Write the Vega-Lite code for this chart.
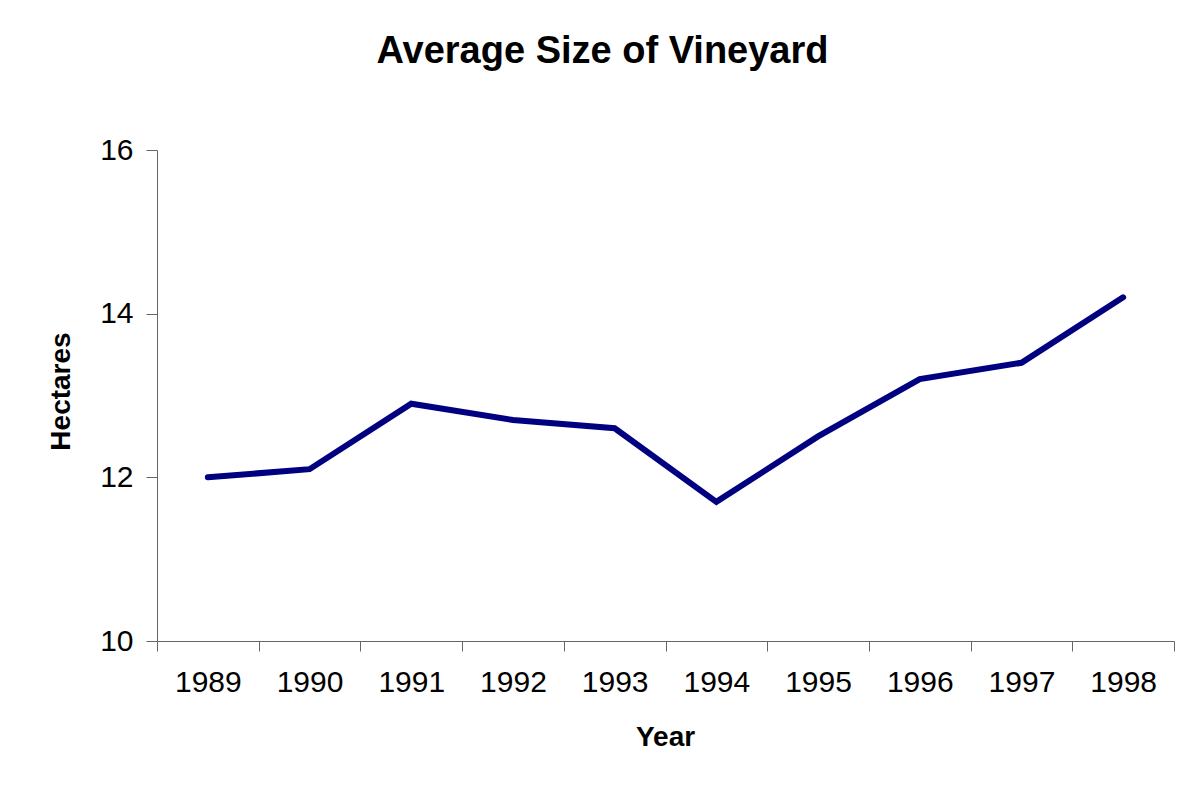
{
  "$schema": "https://vega.github.io/schema/vega-lite/v6.json",
  "width": 1017,
  "height": 491,
  "autosize": {"type": "none"},
  "padding": {"left": 157, "top": 150, "right": 4, "bottom": 145},
  "background": "white",
  "title": {
    "text": "Average Size of Vineyard",
    "font": "Liberation Sans",
    "fontSize": 38,
    "fontWeight": "bold",
    "color": "black",
    "anchor": "middle",
    "dx": -63,
    "offset": 64
  },
  "data": {
    "values": [
      {"Year": 1989, "Hectares": 12.0},
      {"Year": 1990, "Hectares": 12.1},
      {"Year": 1991, "Hectares": 12.9},
      {"Year": 1992, "Hectares": 12.7},
      {"Year": 1993, "Hectares": 12.6},
      {"Year": 1994, "Hectares": 11.7},
      {"Year": 1995, "Hectares": 12.5},
      {"Year": 1996, "Hectares": 13.2},
      {"Year": 1997, "Hectares": 13.4},
      {"Year": 1998, "Hectares": 14.2}
    ]
  },
  "mark": {"type": "line", "color": "#000080", "strokeWidth": 6, "strokeCap": "round", "clip": false},
  "encoding": {
    "x": {
      "field": "Year",
      "type": "quantitative",
      "scale": {"domain": [1988.5, 1998.5], "nice": false, "zero": false},
      "axis": {
        "values": [1988.5, 1989.5, 1990.5, 1991.5, 1992.5, 1993.5, 1994.5, 1995.5, 1996.5, 1997.5, 1998.5],
        "labelExpr": "datum.value > 1998 ? '' : '' + (datum.value + 0.5)",
        "labelOffset": 50.85,
        "labelFlush": false,
        "labelOverlap": false,
        "grid": false,
        "tickSize": 10,
        "labelPadding": 16,
        "labelFont": "Liberation Sans",
        "labelFontSize": 30,
        "labelColor": "black",
        "domainColor": "#666666",
        "tickColor": "#666666",
        "title": "Year",
        "titleFont": "Liberation Sans",
        "titleFontSize": 28,
        "titleFontWeight": "bold",
        "titleColor": "black",
        "titleX": 508,
        "titleY": 96,
        "titleAlign": "center",
        "titleBaseline": "middle"
      }
    },
    "y": {
      "field": "Hectares",
      "type": "quantitative",
      "scale": {"domain": [10, 16], "nice": false, "zero": false},
      "axis": {
        "values": [10, 12, 14, 16],
        "grid": false,
        "tickSize": 11,
        "labelPadding": 13,
        "labelFont": "Liberation Sans",
        "labelFontSize": 30,
        "labelColor": "black",
        "domainColor": "#666666",
        "tickColor": "#666666",
        "title": "Hectares",
        "titleFont": "Liberation Sans",
        "titleFontSize": 28,
        "titleFontWeight": "bold",
        "titleColor": "black",
        "titleX": -96,
        "titleY": 241,
        "titleAngle": -90,
        "titleAlign": "center",
        "titleBaseline": "middle"
      }
    }
  },
  "config": {"view": {"stroke": null}}
}
